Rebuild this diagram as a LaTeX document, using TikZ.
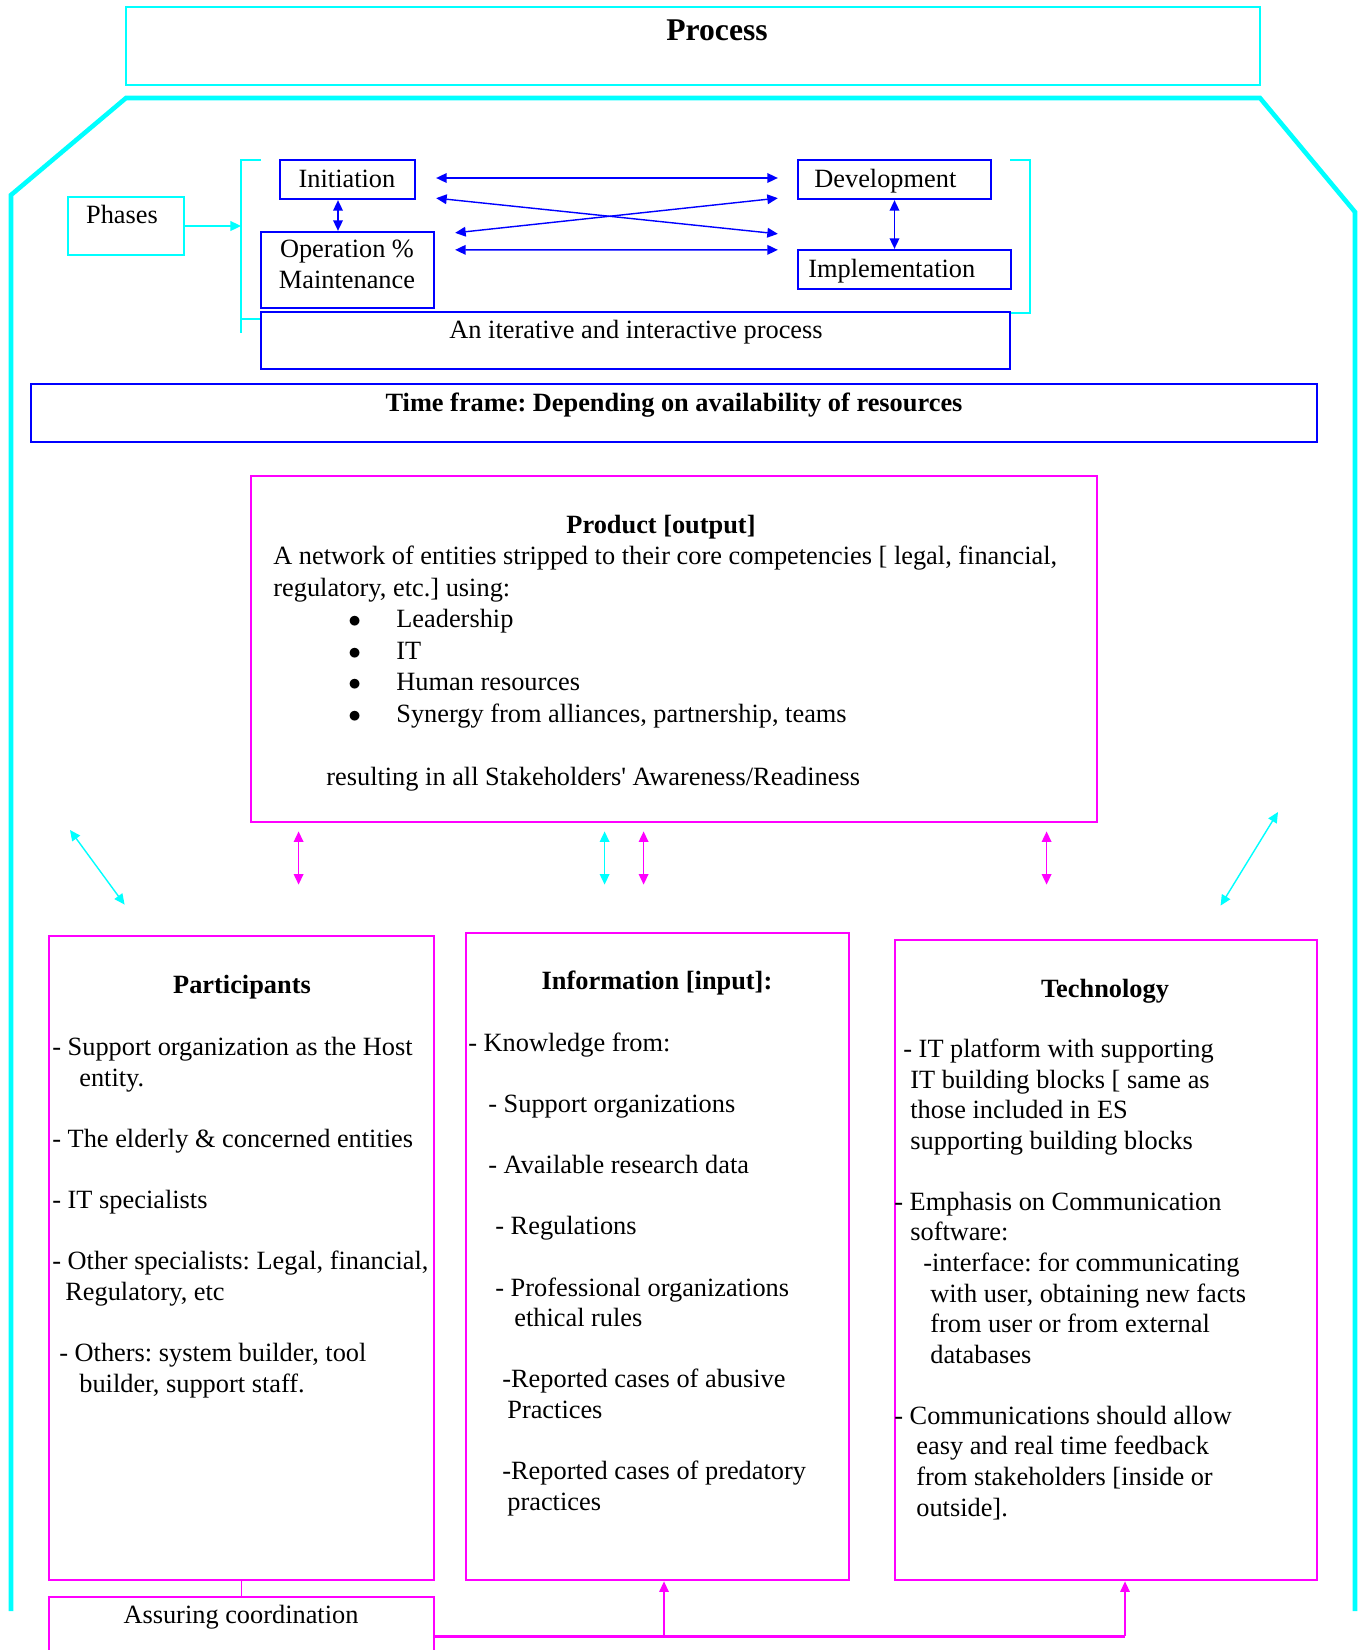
\documentclass[tikz,border=0pt]{standalone}
\usepackage{fontspec}
\setmainfont{Liberation Serif}
\usetikzlibrary{arrows.meta, fit}

\definecolor{cyn}{RGB}{0,255,255}
\definecolor{mgn}{RGB}{255,0,255}
\definecolor{blu}{RGB}{0,0,255}

\newlength\pxu
\setlength\pxu{0.02cm}
\newcommand\bul{\makebox[48\pxu][l]{$\bullet$}}
\frenchspacing

\tikzset{
  cybox/.style={draw=cyn, line width=1.1pt, inner sep=0pt},
  cyline/.style={cyn, line width=1.1pt},
  cyframe/.style={cyn, line width=2.6pt},
  cyarrow/.style={cyn, line width=0.8pt, <->},
  blubox/.style={draw=blu, line width=1.3pt, inner sep=0pt},
  blarrow/.style={blu, line width=0.8pt, <->},
  mgbox/.style={draw=mgn, line width=1.6pt, inner sep=0pt},
  mgarrow/.style={mgn, line width=0.8pt, <->},
  mgup/.style={mgn, line width=0.6pt, ->},
  mgline/.style={mgn, line width=0.6pt},
  mgthick/.style={mgn, line width=1.7pt},
  txt/.style={inner sep=0pt, font=\fontsize{15}{17.4}\selectfont},
  hd/.style={inner sep=0pt, font=\bfseries\fontsize{15}{17.4}\selectfont},
  body/.style={txt, align=left, anchor=base west}
}

\begin{document}
\begin{tikzpicture}[x=0.02cm, y=-0.02cm, >={Triangle[length=6pt, width=5.5pt]}]
\useasboundingbox (0,0) rectangle (1360,1650);

\node[cybox, fit={(126,7) (1260,85)}] (process) {};
\node[inner sep=0pt, font=\bfseries\fontsize{18}{21}\selectfont, anchor=base] (processtitle) at (717,40) {Process};
\draw[cyframe] (11,1611) -- (11,195) -- (126,98) -- (1260,98) -- (1355,212) -- (1355,1611);

\node[cybox, fit={(68,197) (184,255)}] (phases) {};
\node[txt, anchor=base] (phasestxt) at (122,223) {Phases};
\coordinate (brk) at (241,225);
\draw[cyline, ->] (phases.east) -- (phases.east -| brk);
\draw[cyline] (261,160) -- (241,160) -- (241,333) (241,319) -- (261,319);
\draw[cyline] (1010,160) -- (1030,160) -- (1030,313) -- (1010,313);

\node[blubox, fit={(280,160) (415,199)}] (init) {};
\node[txt, anchor=base] (inittxt) at (347,187) {Initiation};
\node[blubox, fit={(261,232) (434,308)}] (oper) {};
\node[txt, anchor=base, align=center] (opertxt) at (347,288) {Operation \%\\Maintenance};
\node[blubox, fit={(798,160) (991,199)}] (dev) {};
\node[txt, anchor=base west] (devtxt) at (814,187) {Development};
\node[blubox, fit={(798,250) (1011,289)}] (impl) {};
\node[txt, anchor=base west] (impltxt) at (808,277) {Implementation};
\node[blubox, line width=0.9pt, fit={(261,312) (1010,369)}] (iter) {};
\node[txt, anchor=base] (itertxt) at (636,338) {An iterative and interactive process};

\draw[blarrow] ([xshift=20\pxu, yshift=1.5\pxu]init.east) -- ([xshift=-19\pxu, yshift=1.5\pxu]dev.west);
\draw[blarrow] ([xshift=20\pxu, yshift=-19\pxu]oper.north east) -- ([xshift=-19\pxu, yshift=-1\pxu]impl.north west);
\draw[blarrow] ([xshift=20\pxu, yshift=2\pxu]init.south east) -- ([xshift=-19\pxu, yshift=15\pxu]impl.north west);
\draw[blarrow] ([xshift=20\pxu, yshift=-2\pxu]oper.north east) -- ([xshift=-19\pxu, yshift=2\pxu]dev.south west);
\draw[blarrow] ([xshift=-9.5\pxu]init.south) -- ([xshift=-9.5\pxu]oper.north);
\draw[blarrow] (dev.south) -- (dev.south |- impl.north);

\node[blubox, line width=1.2pt, fit={(31,384) (1317,442)}] (timeframe) {};
\node[hd, anchor=base] (timetxt) at (674,411) {Time frame: Depending on availability of resources};

\node[mgbox, fit={(251,476) (1097,822)}] (prod) {};
\node[hd, anchor=base] (prodtitle) at (661,533) {Product [output]};
\node[body, font=\fontsize{15}{17.9}\selectfont] (prodtxt) at (273,785) {A network of entities stripped to their core competencies [ legal, financial,\\
regulatory, etc.] using:\\
\hspace*{75\pxu}\bul Leadership\\
\hspace*{75\pxu}\bul IT\\
\hspace*{75\pxu}\bul Human resources\\
\hspace*{75\pxu}\bul Synergy from alliances, partnership, teams\\[17.9pt]
\hspace*{53\pxu}resulting in all Stakeholders\textquotesingle{} Awareness/Readiness};

\node[mgbox, fit={(49,936) (434,1580)}] (part) {};
\node[hd, anchor=base] (parttitle) at (242,993) {Participants};
\node[body] (parttxt) at (52,1392) {- Support organization as the Host\\
\hspace*{27\pxu}entity.\\[17.4pt]
- The elderly \& concerned entities\\[17.4pt]
- IT specialists\\[17.4pt]
- Other specialists: Legal, financial,\\
\hspace*{13\pxu}Regulatory, etc\\[17.4pt]
\hspace*{7\pxu}- Others: system builder, tool\\
\hspace*{27\pxu}builder, support staff.};

\node[mgbox, fit={(466,933) (849,1580)}] (info) {};
\node[hd, anchor=base] (infotitle) at (657,989) {Information [input]:};
\node[body] (infotxt) at (468,1510) {- Knowledge from:\\[17.4pt]
\hspace*{20\pxu}- Support organizations\\[17.4pt]
\hspace*{20\pxu}- Available research data\\[17.4pt]
\hspace*{27\pxu}- Regulations\\[17.4pt]
\hspace*{27\pxu}- Professional organizations\\
\hspace*{46\pxu}ethical rules\\[17.4pt]
\hspace*{34\pxu}-Reported cases of abusive\\
\hspace*{39\pxu}Practices\\[17.4pt]
\hspace*{34\pxu}-Reported cases of predatory\\
\hspace*{39\pxu}practices};

\node[mgbox, fit={(895,940) (1317,1580)}] (tech) {};
\node[hd, anchor=base] (techtitle) at (1105,997) {Technology};
\node[body] (techtxt) at (894,1516) {\hspace*{9\pxu}- IT platform with supporting\\
\hspace*{16\pxu}IT building blocks [ same as\\
\hspace*{16\pxu}those included in ES\\
\hspace*{16\pxu}supporting building blocks\\[17.4pt]
- Emphasis on Communication\\
\hspace*{16\pxu}software:\\
\hspace*{29\pxu}-interface: for communicating\\
\hspace*{36\pxu}with user, obtaining new facts\\
\hspace*{36\pxu}from user or from external\\
\hspace*{36\pxu}databases\\[17.4pt]
- Communications should allow\\
\hspace*{22\pxu}easy and real time feedback\\
\hspace*{22\pxu}from stakeholders [inside or\\
\hspace*{22\pxu}outside].};

\coordinate (pl) at (70,830);
\coordinate (pr) at (1278,812);
\draw[cyarrow] (pl) -- ([xshift=77\pxu, yshift=30\pxu]part.north west);
\draw[cyarrow] (pr) -- ([xshift=327\pxu, yshift=33\pxu]tech.north west);
\draw[mgarrow] ([xshift=49\pxu, yshift=-8\pxu]prod.south west) -- ([xshift=251\pxu, yshift=50\pxu]part.north west);
\draw[cyarrow] ([xshift=355\pxu, yshift=-8\pxu]prod.south west) -- ([xshift=140\pxu, yshift=47\pxu]info.north west);
\draw[mgarrow] ([xshift=394\pxu, yshift=-8\pxu]prod.south west) -- ([xshift=179\pxu, yshift=47\pxu]info.north west);
\draw[mgarrow] ([xshift=797\pxu, yshift=-8\pxu]prod.south west) -- ([xshift=153\pxu, yshift=54\pxu]tech.north west);

\node[mgbox, fit={(49,1597) (434,1675)}] (assure) {};
\node[txt, anchor=base] (assuretxt) at (241,1623) {Assuring coordination};
\draw[mgline] (part) -- (assure);
\coordinate (ij) at (664,1636);
\coordinate (tj) at (1125,1636);
\draw[mgthick] (assure.east) -- (tj);
\draw[mgup] (ij) -- (ij |- info.south);
\draw[mgup] (tj) -- (tj |- tech.south);

\end{tikzpicture}
\end{document}
